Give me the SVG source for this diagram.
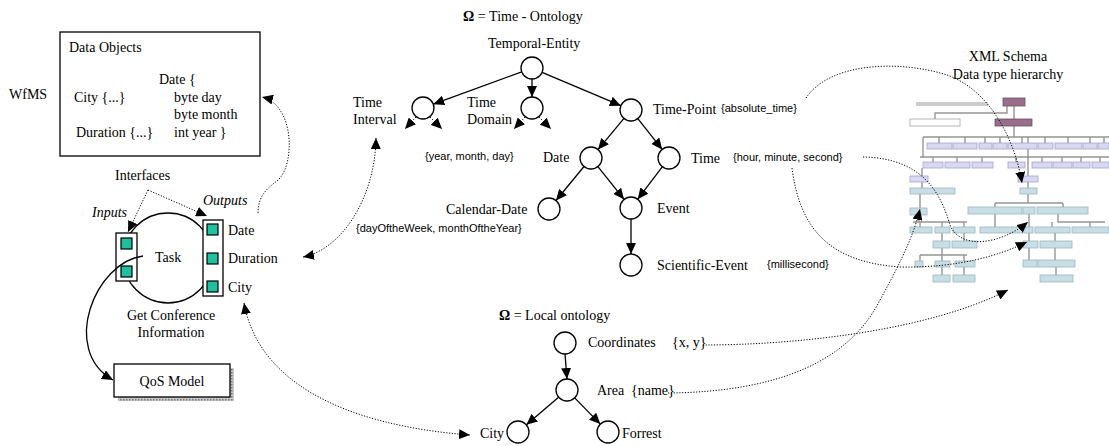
<svg xmlns="http://www.w3.org/2000/svg" width="1109" height="446" viewBox="0 0 1109 446">
<style>
.t{font-family:"Liberation Serif","Times New Roman",serif;font-size:14px;fill:#000}
.i{font-style:italic}
.s{font-family:"Liberation Sans",Arial,sans-serif;font-size:11px;fill:#000}
.c{fill:#fff;stroke:#000;stroke-width:1.3}
.e{stroke:#000;stroke-width:1.3;fill:none;marker-end:url(#ah)}
.d{stroke:#000;stroke-width:1;stroke-dasharray:1.2 1.6;fill:none;marker-end:url(#ah)}
.dd{marker-start:url(#ah)}
.box{fill:#fff;stroke:#000;stroke-width:1.3}
.sq{fill:#1fbf9f;stroke:#000;stroke-width:1.2}
.ln{stroke:#8a8a8a;stroke-width:1.4;fill:none}
.pb{fill:#d4d4f0;stroke:#9c9ccc;stroke-width:0.8}
.db{fill:#c4dae3;stroke:#8eaebb;stroke-width:0.8}
.kb{fill:#8d5f7f;stroke:#5e3d55;stroke-width:0.8}
</style>
<defs>
<marker id="ah" viewBox="0 0 11 10" refX="11" refY="5" markerWidth="11" markerHeight="10" markerUnits="userSpaceOnUse" orient="auto-start-reverse"><path d="M0,0 L11,5 L0,10 z" fill="#000"/></marker>
<pattern id="speck" width="3" height="3" patternUnits="userSpaceOnUse"><rect width="3" height="3" fill="#c8c8c8"/><rect width="1.5" height="1.5" fill="#7a7a7a"/></pattern>
</defs>

<g id="wfms"><text class="t" x="9" y="99">WfMS</text></g>

<g id="data-objects">
<rect class="box" x="60" y="32" width="200" height="124"/>
<text class="t" x="69" y="52">Data Objects</text>
<text class="t" x="159" y="84">Date {</text>
<text class="t" x="74" y="102">City {...}</text>
<text class="t" x="174" y="102">byte day</text>
<text class="t" x="174" y="119">byte month</text>
<text class="t" x="76" y="137">Duration {...}</text>
<text class="t" x="174" y="137">int year }</text>
</g>

<g id="interfaces"><text class="t" x="115" y="180">Interfaces</text></g>

<g id="task">
<circle cx="168" cy="258" r="45" fill="none" stroke="#000" stroke-width="1.3"/>
<text class="t i" x="92" y="217">Inputs</text>
<text class="t i" x="203" y="205">Outputs</text>
<rect class="box" x="116" y="233" width="21" height="48"/>
<rect class="sq" x="121" y="238" width="11" height="11"/>
<rect class="sq" x="121" y="266" width="11" height="11"/>
<rect class="box" x="203" y="220" width="20" height="76"/>
<rect class="sq" x="207" y="224" width="11" height="11"/>
<rect class="sq" x="207" y="253" width="11" height="11"/>
<rect class="sq" x="207" y="281" width="11" height="11"/>
<text class="t" x="155" y="262">Task</text>
<text class="t" x="228" y="235">Date</text>
<text class="t" x="228" y="263">Duration</text>
<text class="t" x="228" y="292">City</text>
<text class="t" x="171" y="320" text-anchor="middle">Get Conference</text>
<text class="t" x="171" y="337" text-anchor="middle">Information</text>
</g>

<g id="qos-model">
<rect x="118" y="368" width="116" height="33" fill="url(#speck)"/>
<rect class="box" x="114" y="364" width="116" height="33"/>
<text class="t" x="172" y="386" text-anchor="middle">QoS Model</text>
</g>

<g id="time-ontology">
<text class="t" x="463" y="21"><tspan font-weight="bold">Ω</tspan> = Time - Ontology</text>
<text class="t" x="488" y="48">Temporal-Entity</text>
<circle class="c" cx="532" cy="68" r="11"/>
<text class="t" x="353" y="107">Time</text>
<text class="t" x="353" y="124">Interval</text>
<circle class="c" cx="423" cy="108" r="11"/>
<text class="t" x="467" y="107">Time</text>
<text class="t" x="467" y="124">Domain</text>
<circle class="c" cx="532" cy="108" r="11"/>
<text class="t" x="653" y="114">Time-Point</text>
<text class="s" x="721" y="112">{absolute_time}</text>
<circle class="c" cx="631" cy="110" r="11"/>
<text class="s" x="425" y="160">{year, month, day}</text>
<text class="t" x="543" y="162">Date</text>
<circle class="c" cx="591" cy="158" r="11"/>
<text class="t" x="691" y="163">Time</text>
<text class="s" x="733" y="161">{hour, minute, second}</text>
<circle class="c" cx="669" cy="158" r="11"/>
<text class="t" x="446" y="214">Calendar-Date</text>
<text class="s" x="356" y="232">{dayOftheWeek, monthOftheYear}</text>
<circle class="c" cx="549" cy="209" r="11"/>
<text class="t" x="657" y="213">Event</text>
<circle class="c" cx="631" cy="208" r="11"/>
<text class="t" x="657" y="270">Scientific-Event</text>
<text class="s" x="767" y="268">{millisecond}</text>
<circle class="c" cx="631" cy="265" r="11"/>
</g>

<g id="local-ontology">
<text class="t" x="499" y="320"><tspan font-weight="bold">Ω</tspan> = Local ontology</text>
<circle class="c" cx="565" cy="343" r="11"/>
<text class="t" x="588" y="347">Coordinates</text>
<text class="t" x="672" y="347">{x, y}</text>
<circle class="c" cx="567" cy="390" r="11"/>
<text class="t" x="597" y="395">Area</text>
<text class="t" x="631" y="395">{name}</text>
<circle class="c" cx="518" cy="432" r="11"/>
<text class="t" x="480" y="438">City</text>
<circle class="c" cx="608" cy="432" r="11"/>
<text class="t" x="622" y="438">Forrest</text>
</g>

<g id="xml-schema">
<text class="t" x="1008" y="61" text-anchor="middle">XML Schema</text>
<text class="t" x="1008" y="79" text-anchor="middle">Data type hierarchy</text>
<g opacity="0.9">
<rect x="916" y="102" width="72" height="4" fill="#c8c8c8"/>
<path class="ln" d="M1007,106 V113 H935 V119 M1014,106 V119 M1014,126 V137 M923,137 H1109 M923,137 V157 M1028,137 V157 M920,157 H1109"/>
<path class="ln" d="M939,137 V143 M965,137 V143 M985,137 V143 M1000,137 V143 M1022,137 V143 M1045,137 V143 M1068,137 V143 M1090,137 V143 M1104,137 V143"/>
<path class="ln" d="M933,157 V162 M957,157 V162 M982,157 V162 M1016,157 V162 M1042,157 V162 M1062,157 V162 M1081,157 V162 M1100,157 V162"/>
<path class="ln" d="M922,168 V176 M922,182 V188 M920,194 V208 M919,215 V222 M913,222 H967 M920,222 V227 M942,222 V227 M964,222 V227 M942,233 V241 M964,233 V241 M942,248 V255 M920,255 H967 M920,255 V261 M942,255 V275 M964,255 V275"/>
<path class="ln" d="M1028,157 V176 M1028,182 V188 M1028,194 V203 M995,203 H1063 M995,203 V207 M1063,203 V207 M995,214 V227 M1058,214 V222 H1105 M1052,222 V227 M1090,222 V227 M1029,214 V241 M1055,233 V241 M1029,248 V260 M1055,248 V260 M1056,267 V275"/>
<rect class="kb" x="1003" y="98" width="22" height="8"/>
<rect x="910" y="119" width="50" height="7" fill="#fff" stroke="#999" stroke-width="0.8"/>
<rect class="kb" x="995" y="119" width="37" height="7"/>
<rect class="pb" x="927" y="143" width="25" height="6"/>
<rect class="pb" x="953" y="143" width="24" height="6"/>
<rect class="pb" x="979" y="143" width="13" height="6"/>
<rect class="pb" x="993" y="143" width="14" height="6"/>
<rect class="pb" x="1008" y="143" width="29" height="6"/>
<rect class="pb" x="1038" y="143" width="15" height="6"/>
<rect class="pb" x="1055" y="143" width="27" height="6"/>
<rect class="pb" x="1083" y="143" width="14" height="6"/>
<rect class="pb" x="1098" y="143" width="11" height="6"/>
<rect class="pb" x="923" y="162" width="20" height="6"/>
<rect class="pb" x="945" y="162" width="25" height="6"/>
<rect class="pb" x="972" y="162" width="21" height="6"/>
<rect class="pb" x="1008" y="162" width="17" height="6"/>
<rect class="pb" x="1032" y="162" width="20" height="6"/>
<rect class="pb" x="1053" y="162" width="19" height="6"/>
<rect class="pb" x="1073" y="162" width="17" height="6"/>
<rect class="pb" x="1092" y="162" width="17" height="6"/>
<rect class="pb" x="910" y="176" width="18" height="6"/>
<rect class="db" x="910" y="188" width="45" height="6"/>
<rect class="db" x="910" y="208" width="17" height="7"/>
<rect class="db" x="910" y="227" width="22" height="6"/>
<rect class="db" x="935" y="227" width="15" height="6"/>
<rect class="db" x="953" y="227" width="22" height="6"/>
<rect class="db" x="933" y="241" width="17" height="7"/>
<rect class="db" x="952" y="241" width="25" height="7"/>
<rect class="db" x="915" y="261" width="8" height="6"/>
<rect class="db" x="935" y="261" width="15" height="6"/>
<rect class="db" x="955" y="261" width="20" height="6"/>
<rect class="db" x="933" y="275" width="17" height="7"/>
<rect class="db" x="953" y="275" width="22" height="7"/>
<rect class="pb" x="1018" y="176" width="20" height="6"/>
<rect class="db" x="1020" y="188" width="17" height="6"/>
<rect class="db" x="968" y="207" width="54" height="7"/>
<rect class="db" x="1023" y="207" width="12" height="7"/>
<rect class="db" x="1037" y="207" width="51" height="7"/>
<rect class="db" x="980" y="227" width="53" height="6"/>
<rect class="db" x="1035" y="227" width="35" height="6"/>
<rect class="db" x="1072" y="227" width="37" height="6"/>
<rect class="db" x="1023" y="241" width="15" height="7"/>
<rect class="db" x="1040" y="241" width="32" height="7"/>
<rect class="db" x="1023" y="260" width="14" height="7"/>
<rect class="db" x="1038" y="260" width="37" height="7"/>
<rect class="db" x="1040" y="275" width="33" height="7"/>
</g>
</g>

<g id="connectors">
<path class="e" d="M521.7,71.8 L433.3,104.2"/>
<path class="e" d="M532,79 L532,97"/>
<path class="e" d="M542.1,72.3 L620.9,105.7"/>
<path class="e" d="M624,118.4 L598,149.6"/>
<path class="e" d="M637.8,118.6 L662.2,149.4"/>
<path class="e" d="M584,166.5 L556,200.5"/>
<path class="e" d="M597.9,166.6 L624.1,199.4"/>
<path class="e" d="M662.3,166.8 L637.7,199.2"/>
<path class="e" d="M631,219 L631,254"/>
<path class="e" d="M565,354 L567,379"/>
<path class="e" d="M558.6,397.2 L526.4,424.8"/>
<path class="e" d="M574.7,397.9 L600.3,424.1"/>
<path class="d" d="M416,117 L405,129"/>
<path class="d" d="M430,117 L442,129"/>
<path class="d" d="M525,117 L514,129"/>
<path class="d" d="M539,117 L551,129"/>
<path class="e" d="M143,256 C95,262 60,350 113,380"/>
<path class="d" d="M148,190 L128,232"/>
<path class="d" d="M148,190 L207,216"/>
<path class="d" d="M258,213 C258,195 268,188 278,180 C295,165 295,105 262,97"/>
<path class="d dd" d="M303,257 C340,250 375,200 376,138"/>
<path class="d dd" d="M244,303 C258,380 340,425 470,435"/>
<path class="d" d="M806,98 C830,62 900,60 947,75 C990,90 1015,140 1022,183"/>
<path class="d" d="M863,157 C920,158 940,190 950,225 C960,250 1000,245 1028,222"/>
<path class="d" d="M792,168 C800,230 830,262 900,267 C960,268 1000,255 1027,242"/>
<path class="d" d="M668,393 C780,392 850,360 880,300 C905,255 915,230 920,209"/>
<path class="d" d="M703,345 C800,345 930,330 1008,290"/>
</g>
</svg>
